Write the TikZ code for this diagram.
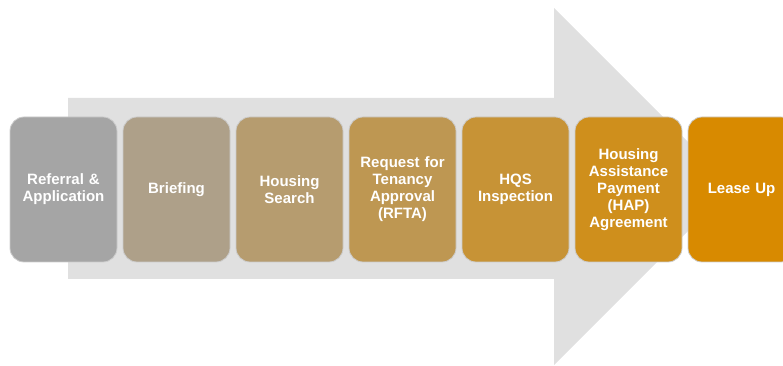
\documentclass[tikz,border=0pt]{standalone}
\usepackage{fontspec}
\setmainfont{Liberation Sans}
\definecolor{arrowgrey}{HTML}{E0E0E0}
\definecolor{stepgrey}{HTML}{A5A5A5}
\definecolor{steporange}{HTML}{D88A00}
\colorlet{stepA}{stepgrey}
\colorlet{stepB}{steporange!17!stepgrey}
\colorlet{stepC}{steporange!33!stepgrey}
\colorlet{stepD}{steporange!50!stepgrey}
\colorlet{stepE}{steporange!67!stepgrey}
\colorlet{stepF}{steporange!83!stepgrey}
\colorlet{stepG}{steporange}
\tikzset{
  stepbox/.style={rectangle, rounded corners=14pt, draw=white!80!black, line width=0.8pt,
    minimum width=107pt, minimum height=145pt, inner sep=2pt, text width=103pt,
    align=center, text=white, font=\fontsize{15}{17}\selectfont\bfseries}
}
\begin{document}
\begin{tikzpicture}[x=1pt,y=1pt]
            \useasboundingbox (0,0) rectangle (783,366);
            \clip (0,0) rectangle (783,366);
            % big arrow behind the steps
            \coordinate (tail top) at (68,268);
            \coordinate (tail bot) at (68,87);
            \coordinate (tip) at (732.5,179.5);
            \fill[arrowgrey] (tail bot) -- (tail top) -- (554,268) -- (554,358)
                -- (tip) -- (554,1) -- (554,87) -- cycle;

            \node[stepbox, fill=stepA] (referral) at (63.5,176.5) {Referral \&\\Application};
            \node[stepbox, fill=stepB] (briefing) at (176.5,176.5) {Briefing};
            \node[stepbox, fill=stepC] (search) at (289.5,176.5) {Housing\\Search};
            \node[stepbox, fill=stepD] (rfta) at (402.5,176.5) {Request for\\Tenancy\\Approval\\(RFTA)};
            \node[stepbox, fill=stepE] (hqs) at (515.5,176.5) {HQS\\Inspection};
            \node[stepbox, fill=stepF] (hap) at (628.5,176.5) {Housing\\Assistance\\Payment\\(HAP)\\Agreement};
            \node[stepbox, fill=stepG] (lease) at (741.5,176.5) {Lease Up};
        \end{tikzpicture}
\end{document}
